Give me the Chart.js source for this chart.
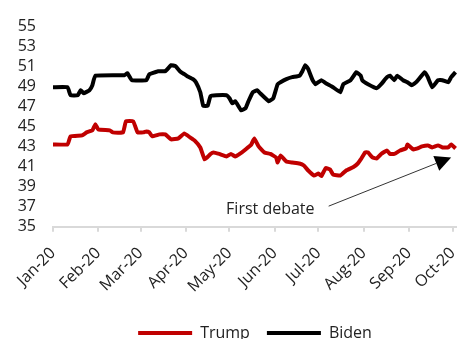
<!DOCTYPE html>
<html>
<head>
<meta charset="utf-8">
<script src="https://cdn.jsdelivr.net/npm/chart.js@4.4.1/dist/chart.umd.min.js"></script>
<style>
    html, body { margin: 0; padding: 0; background: #fff; overflow: hidden; }
    #wrap { width: 457px; height: 351px; position: relative; }
</style>
</head>
<body>
<div id="wrap"><canvas id="pollchart"></canvas></div>
<script>
    // ---------- DADOS ----------
    // dias contados a partir de 1 jan 2020
    const monthDays = [0, 31, 60, 91, 121, 152, 182, 213, 244, 274];
    const monthLabels = ["Jan-20", "Feb-20", "Mar-20", "Apr-20", "May-20", "Jun-20", "Jul-20", "Aug-20", "Sep-20", "Oct-20"];
    const yTicks = [35, 37, 39, 41, 43, 45, 47, 49, 51, 53, 55];

    const bidenDays = [0, 10, 12, 17, 19, 21, 25, 27, 29, 49, 51, 54, 64, 66, 68, 72, 77, 81, 84, 87, 90, 92, 96, 98,
        101, 103, 106, 108, 112, 119, 121, 123, 125, 129, 132, 134, 137, 140, 142, 148, 151, 154, 156, 160, 164, 169,
        171, 173, 175, 178, 180, 184, 187, 192, 197, 199, 204, 208, 211, 212, 216, 222, 225, 229, 231, 234, 236, 240,
        243, 246, 249, 255, 257, 260, 264, 267, 271, 273, 276];
    const bidenValues = [48.9, 48.9, 48.1, 48.1, 48.6, 48.3, 48.6, 49.1, 50.05, 50.1, 50.3, 49.6, 49.6, 50.2, 50.3, 50.5, 50.5, 51.1, 51.0, 50.5, 50.2, 50.0, 49.7, 49.4,
        48.4, 47.05, 47.05, 48.0, 48.1, 48.1, 47.8, 47.3, 47.5, 46.6, 46.8, 47.5, 48.4, 48.6, 48.3, 47.5, 47.8, 49.2, 49.4, 49.7, 49.9, 50.05,
        50.5, 51.1, 50.7, 49.6, 49.2, 49.6, 49.3, 48.9, 48.4, 49.2, 49.6, 50.4, 50.05, 49.6, 49.2, 48.8, 49.2, 49.9, 50.05, 49.6, 50.05, 49.6,
        49.4, 49.1, 49.4, 50.4, 49.9, 48.9, 49.6, 49.6, 49.4, 49.9, 50.4];

    const trumpDays = [0, 10, 12, 20, 23, 27, 29, 31, 39, 41, 48, 50, 55, 58, 62, 64, 66, 68, 73, 77, 81, 86, 90, 94,
        97, 101, 104, 108, 110, 114, 119, 122, 125, 128, 132, 136, 138, 141, 145, 149, 153, 154, 156, 160, 164, 169,
        172, 175, 179, 182, 184, 187, 190, 192, 197, 201, 206, 209, 211, 214, 216, 219, 222, 225, 229, 231, 234, 238,
        242, 243, 247, 250, 253, 257, 260, 264, 267, 271, 273, 276];
    const trumpValues = [43.2, 43.2, 44.0, 44.1, 44.4, 44.6, 45.2, 44.7, 44.6, 44.4, 44.4, 45.5, 45.5, 44.4, 44.4, 44.5, 44.4, 44.0, 44.2, 44.2, 43.7, 43.8, 44.3, 43.9,
        43.6, 42.9, 41.7, 42.25, 42.4, 42.25, 42.0, 42.25, 42.0, 42.25, 42.7, 43.2, 43.8, 43.0, 42.4, 42.25, 41.9, 41.4, 42.1, 41.5, 41.4, 41.3,
        41.1, 40.6, 40.1, 40.3, 40.05, 40.85, 40.7, 40.2, 40.1, 40.6, 40.95, 41.3, 41.7, 42.4, 42.4, 41.9, 41.8, 42.25, 42.6, 42.25, 42.25, 42.6,
        42.8, 43.2, 42.7, 42.8, 43.0, 43.1, 42.9, 43.1, 42.9, 42.9, 43.2, 42.8];

    // anotação do primeiro debate (em unidades dos eixos)
    const debateLabel = "First debate";
    const debateText = [149, 36.75];
    const debateArrowFrom = [189, 37.05];
    const debateArrowTo = [273, 41.9];

    const FONT = "'Open Sans', 'Noto Sans', sans-serif";

    function toPoints(days, values) {
        return days.map((d, i) => ({ x: d, y: values[i] }));
    }

    // ---------- PLUGIN DA SETA ----------
    const debatePlugin = {
        id: "debate",
        afterDatasetsDraw(chart) {
            const { ctx, scales: { x, y } } = chart;
            const tx = x.getPixelForValue(debateText[0]);
            const ty = y.getPixelForValue(debateText[1]);
            const x1 = x.getPixelForValue(debateArrowFrom[0]);
            const y1 = y.getPixelForValue(debateArrowFrom[1]);
            const x2 = x.getPixelForValue(debateArrowTo[0]);
            const y2 = y.getPixelForValue(debateArrowTo[1]);

            ctx.save();
            ctx.font = "16px " + FONT;
            ctx.fillStyle = "#222";
            ctx.textAlign = "center";
            ctx.textBaseline = "middle";
            ctx.fillText(debateLabel, tx, ty);

            // linha
            const ang = Math.atan2(y2 - y1, x2 - x1);
            const headLen = 16, headW = 8;
            const bx = x2 - headLen * Math.cos(ang);
            const by = y2 - headLen * Math.sin(ang);
            ctx.strokeStyle = "#333";
            ctx.lineWidth = 1;
            ctx.beginPath();
            ctx.moveTo(x1, y1);
            ctx.lineTo(bx, by);
            ctx.stroke();

            // ponta
            ctx.fillStyle = "#000";
            ctx.beginPath();
            ctx.moveTo(x2, y2);
            ctx.lineTo(bx + headW * Math.sin(ang), by - headW * Math.cos(ang));
            ctx.lineTo(bx - headW * Math.sin(ang), by + headW * Math.cos(ang));
            ctx.closePath();
            ctx.fill();
            ctx.restore();
        }
    };

    // ---------- GRÁFICO ----------
    const ctx = document.getElementById("pollchart").getContext("2d");
    new Chart(ctx, {
        type: "line",
        data: {
            datasets: [{
                label: "Trump",
                data: toPoints(trumpDays, trumpValues),
                borderColor: "#C00000",
                backgroundColor: "#C00000",
                borderWidth: 4,
                pointRadius: 0,
                tension: 0.1,
                borderJoinStyle: "round"
            }, {
                label: "Biden",
                data: toPoints(bidenDays, bidenValues),
                borderColor: "#000000",
                backgroundColor: "#000000",
                borderWidth: 4,
                pointRadius: 0,
                tension: 0.1,
                borderJoinStyle: "round"
            }]
        },
        options: {
            responsive: true,
            maintainAspectRatio: false,
            animation: false,
            layout: { padding: { top: 26, right: 0, left: 0, bottom: 0 } },
            scales: {
                x: {
                    type: "linear",
                    min: 0,
                    max: 277,
                    afterBuildTicks: axis => {
                        axis.ticks = monthDays.map(v => ({ value: v }));
                    },
                    afterFit: axis => {
                        axis.paddingLeft = 0;
                        axis.paddingRight = 0;
                    },
                    ticks: {
                        autoSkip: false,
                        maxRotation: 45,
                        minRotation: 45,
                        padding: 12,
                        color: "#222",
                        font: { family: FONT, size: 16 },
                        callback: (value) => monthLabels[monthDays.indexOf(value)]
                    },
                    grid: {
                        drawOnChartArea: false,
                        drawTicks: true,
                        tickLength: 5,
                        color: "#d9d9d9",
                        lineWidth: 2
                    },
                    border: { display: true, color: "#d9d9d9", width: 2 }
                },
                y: {
                    min: 35,
                    max: 55,
                    afterBuildTicks: axis => {
                        axis.ticks = yTicks.map(v => ({ value: v }));
                    },
                    afterFit: axis => {
                        axis.width = 53;
                        axis.paddingTop = 0;
                        axis.paddingBottom = 0;
                    },
                    ticks: {
                        autoSkip: false,
                        padding: 9,
                        color: "#222",
                        font: { family: FONT, size: 16 }
                    },
                    grid: { display: false },
                    border: { display: false }
                }
            },
            plugins: {
                legend: {
                    position: "bottom",
                    fullSize: false,
                    labels: {
                        color: "#222",
                        font: { family: FONT, size: 16 },
                        boxWidth: 54,
                        boxHeight: 4,
                        padding: 17,
                        generateLabels: chart => {
                            const items = Chart.defaults.plugins.legend.labels.generateLabels(chart);
                            items.forEach(it => { it.fillStyle = it.strokeStyle; it.lineWidth = 0; });
                            return items;
                        }
                    }
                },
                tooltip: { enabled: false }
            }
        },
        plugins: [debatePlugin]
    });
</script>
</body>
</html>
